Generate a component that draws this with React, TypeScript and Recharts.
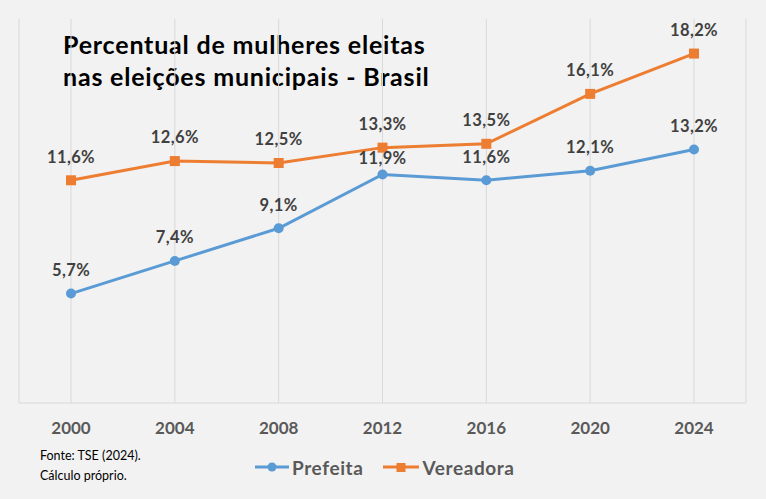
import { LineChart, Line, XAxis, YAxis, CartesianGrid } from 'recharts'

const anos = ['2000', '2004', '2008', '2012', '2016', '2020', '2024']
const prefeita = [5.7, 7.4, 9.1, 11.9, 11.6, 12.1, 13.2]
const vereadora = [11.6, 12.6, 12.5, 13.3, 13.5, 16.1, 18.2]

const data = anos.map((ano, i) => ({ ano, prefeita: prefeita[i], vereadora: vereadora[i] }))

const FONT = 'Lato, "Open Sans", sans-serif'
const BLUE = '#5b9bd5'
const ORANGE = '#ed7d31'

const fmt = (v: number) => v.toFixed(1).replace('.', ',') + '%'

function makeLabel(series: 'prefeita' | 'vereadora') {
  return (props: any) => {
    const { x, y, value, index } = props
    // 2012 da prefeita fica logo abaixo da linha laranja
    const off = series === 'prefeita' && index === 3 ? 15 : 22
    return (
      <text x={x} y={y - off} textAnchor="middle" dominantBaseline="middle"
        fontFamily={FONT} fontWeight={700} fontSize={16.5} fill="#404040" letterSpacing={0.4}>
        {fmt(value)}
      </text>
    )
  }
}

const SquareDot = (props: any) => {
  const { cx, cy } = props
  return <rect x={cx - 5} y={cy - 5} width={10} height={10} fill={ORANGE} />
}

export default function App() {
  return (
    <div style={{ position: 'fixed', left: 0, top: 0, width: 766, height: 499, background: '#f2f2f2', fontFamily: FONT }}>
      <div style={{ position: 'absolute', left: 63, top: 28, fontSize: 25, fontWeight: 700, color: '#000', lineHeight: '32px', letterSpacing: 0.8 }}>
        Percentual de mulheres eleitas<br />nas eleições municipais - Brasil
      </div>
      <LineChart width={766} height={499} data={data} margin={{ top: 19, right: 20, bottom: 66, left: 19 }}>
        <CartesianGrid vertical horizontal={false} stroke="#d9d9d9" />
        <XAxis dataKey="ano" padding={{ left: 52, right: 52 }} stroke="#d9d9d9" tickLine={false} tickSize={0} tickMargin={19}
          tick={{ fill: '#595959', fontSize: 17, fontWeight: 700, fontFamily: FONT }} />
        <YAxis hide domain={[0, 20]} />
        <Line dataKey="prefeita" stroke={BLUE} strokeWidth={3} isAnimationActive={false}
          dot={{ r: 5, fill: BLUE, stroke: BLUE, strokeWidth: 0 }} label={makeLabel('prefeita')} />
        <Line dataKey="vereadora" stroke={ORANGE} strokeWidth={3} isAnimationActive={false}
          dot={<SquareDot />} label={makeLabel('vereadora')} />
      </LineChart>
      <div style={{ position: 'absolute', left: 40, top: 446, fontSize: 12.5, color: '#000', lineHeight: '20px' }}>
        Fonte: TSE (2024).<br />Cálculo próprio.
      </div>
      <div style={{ position: 'absolute', left: 255, top: 455, display: 'flex', alignItems: 'center', fontSize: 19, fontWeight: 700, color: '#595959', letterSpacing: 0.6 }}>
        <svg width={34} height={24}>
          <line x1={0} y1={12} x2={34} y2={12} stroke={BLUE} strokeWidth={3} />
          <circle cx={17} cy={12} r={4.5} fill={BLUE} />
        </svg>
        <span style={{ marginLeft: 3, marginRight: 20 }}>Prefeita</span>
        <svg width={36} height={24}>
          <line x1={0} y1={12} x2={36} y2={12} stroke={ORANGE} strokeWidth={3} />
          <rect x={13.5} y={8} width={9} height={9} fill={ORANGE} />
        </svg>
        <span style={{ marginLeft: 3 }}>Vereadora</span>
      </div>
    </div>
  )
}
